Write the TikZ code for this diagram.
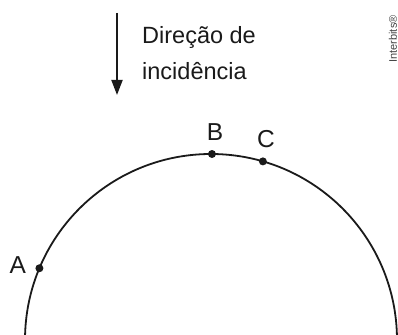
\documentclass[tikz,border=0pt]{standalone}
\usepackage{fontspec}
\setmainfont{Liberation Sans}
\usetikzlibrary{arrows.meta,positioning,calc}
\definecolor{rimblack}{HTML}{1A1A1A}
\definecolor{markgrey}{HTML}{444444}

\begin{document}
\begin{tikzpicture}[
  x=1pt, y=1pt,
  rim/.style={draw=rimblack, line width=1.8pt},
  dot/.style={circle, fill=rimblack, inner sep=0pt, minimum size=8pt},
  lbl/.style={font=\fontsize{24.5}{28}\selectfont, inner sep=0pt, text=rimblack},
  incid/.style={-{Triangle[length=15pt, width=11pt]}, rimblack, line width=1.8pt},
  ann/.style={font=\fontsize{23.5}{36}\selectfont, align=left, inner sep=0pt, text=rimblack},
  creditmark/.style={font=\fontsize{11}{13}\selectfont, rotate=90, inner sep=0pt, text=markgrey},
]

  %% Frame of the picture
  \clip (0,0) rectangle (398,334);

  %% Surface of the sphere
  \coordinate (ctr) at (211,-6);
  \draw[rim] (ctr) circle[radius=186];

  %% Points on the surface
  \node[dot] (A) at ($(ctr)+(157.3:186)$) {};
  \node[dot] (B) at ($(ctr)+(89.7:186)$)  {};
  \node[dot] (C) at ($(ctr)+(73.8:186)$)  {};
  \node[lbl, left=9pt of A, yshift=3pt]  (labA) {A};
  \node[lbl, above=9pt of B, xshift=3pt] (labB) {B};
  \node[lbl, above=9pt of C, xshift=3pt] (labC) {C};

  %% Incidence arrow and its caption
  \coordinate (src) at (117,321);
  \coordinate (dst) at (117,239);
  \draw[incid] (src) -- (dst);
  \node[ann, anchor=base west] (cap) at (142,254) {Direção de\\incidência};

  %% Credit
  \node[creditmark] (credit) at (393,295) {Interbits®};

\end{tikzpicture}
\end{document}
